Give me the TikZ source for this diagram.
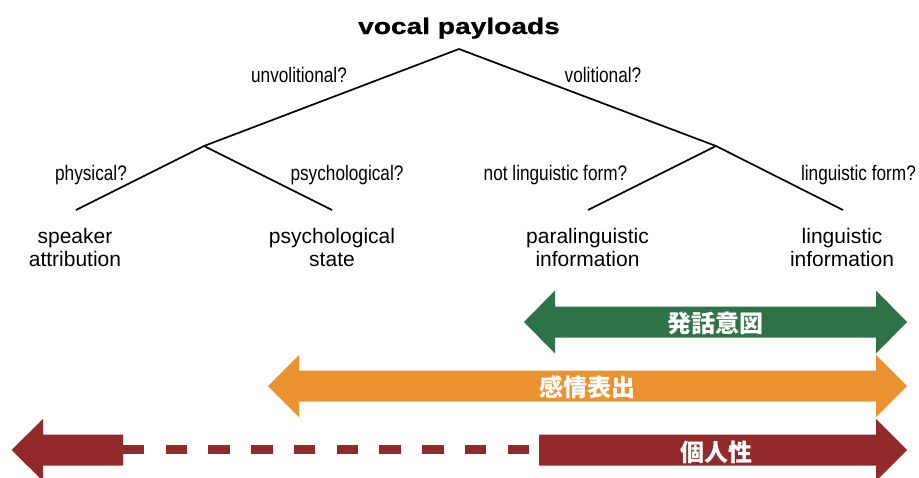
\documentclass[tikz,border=0pt]{standalone}
\usepackage{fontspec}
\setmainfont{Liberation Sans}
\newfontfamily\cjk{Noto Sans CJK JP}
\newfontfamily\heavy{Liberation Sans Bold}[FakeBold=0.8]
\definecolor{cgreen}{RGB}{46,115,72}
\definecolor{corange}{RGB}{234,146,48}
\definecolor{cred}{RGB}{146,42,44}
\begin{document}
\begin{tikzpicture}[x=1pt,y=-1pt,
  branch/.style={line width=1.7pt,black},
  lbl/.style={inner sep=0pt,anchor=base,font=\fontsize{21}{21}\selectfont},
  jp/.style={inner sep=0pt,text=white,font=\cjk\bfseries\fontsize{24}{24}\selectfont}]
\useasboundingbox (0,0) rectangle (919,477);
\clip (0,0) rectangle (919,477);
% title
\node[inner sep=0pt,anchor=base] (title) at (459,34) {\scalebox{1.25}[1]{\heavy\fontsize{22.5}{22.5}\selectfont vocal payloads}};
% tree
\coordinate (root) at (459,49);
\coordinate (jl) at (204,146);
\coordinate (jr) at (716,146);
\coordinate (l1) at (76,210);
\coordinate (l2) at (332,210);
\coordinate (l3) at (588,210);
\coordinate (l4) at (843,210);
\draw[branch] (jl) -- (root) -- (jr);
\draw[branch] (l1) -- (jl) -- (l2);
\draw[branch] (l3) -- (jr) -- (l4);
% branch labels
\node[lbl] (q1) at (299,82) {\scalebox{0.82}[1]{unvolitional?}};
\node[lbl] (q2) at (603,82) {\scalebox{0.82}[1]{volitional?}};
\node[lbl] (q3) at (91,180) {\scalebox{0.82}[1]{physical?}};
\node[lbl] (q4) at (347,180) {\scalebox{0.82}[1]{psychological?}};
\node[lbl] (q5) at (555.5,180) {\scalebox{0.82}[1]{not linguistic form?}};
\node[lbl] (q6) at (858.5,180) {\scalebox{0.82}[1]{linguistic form?}};
% leaves
\node[lbl] (s1a) at (75,243) {speaker};
\node[lbl] (s1b) at (75,266) {attribution};
\node[lbl] (s2a) at (332,243) {psychological};
\node[lbl] (s2b) at (332,266) {state};
\node[lbl] (s3a) at (587.5,243) {paralinguistic};
\node[lbl] (s3b) at (587.5,266) {information};
\node[lbl] (s4a) at (842,243) {linguistic};
\node[lbl] (s4b) at (842,266) {information};
% green double arrow
\fill[cgreen] (524,322) -- (555,290.5) -- (555,306.5) -- (876,306.5) -- (876,290.5) -- (907,322)
  -- (876,353.5) -- (876,337.5) -- (555,337.5) -- (555,353.5) -- cycle;
\node[jp] (g) at (715.5,323) {発話意図};
% orange double arrow
\fill[corange] (268,386) -- (299,355) -- (299,370.5) -- (876,370.5) -- (876,355) -- (907,386)
  -- (876,417) -- (876,401.5) -- (299,401.5) -- (299,417) -- cycle;
\node[jp] (o) at (587.5,387) {感情表出};
% red arrows
\fill[cred] (11.5,450) -- (43,419) -- (43,434.5) -- (123,434.5) -- (123,465.5) -- (43,465.5) -- (43,481) -- cycle;
\fill[cred] (539,434.5) -- (876,434.5) -- (876,419) -- (907,450) -- (876,481) -- (876,465.5) -- (539,465.5) -- cycle;
\coordinate (da) at (123,449.5);
\coordinate (db) at (529,449.5);
\draw[cred,line width=9.5pt,dash pattern=on 21.37pt off 21.37pt] (da) -- (db);
\node[jp] (r) at (716,452) {個人性};
\end{tikzpicture}
\end{document}
